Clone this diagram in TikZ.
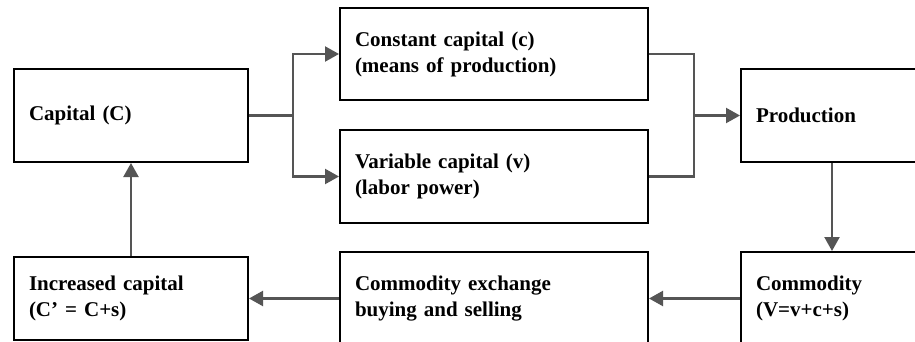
\documentclass[tikz,border=0pt]{standalone}
\usepackage{fontspec}
\setmainfont{Liberation Serif}
\usetikzlibrary{arrows.meta}
\definecolor{linkgray}{HTML}{555555}
\begin{document}
\begin{tikzpicture}[x=1pt,y=-1pt,
  box/.style={draw=black,line width=2pt,inner xsep=15pt,inner ysep=0pt,
    align=left,font=\fontsize{21}{26}\selectfont\bfseries},
  wide/.style={box,minimum width=308pt,text width=278pt,minimum height=92pt},
  narrow/.style={box,minimum width=234pt,text width=204pt,minimum height=93pt},
  conn/.style={draw=linkgray,line width=2.2pt},
  arr/.style={conn,-{Triangle[length=14pt,width=15pt]}}]
\useasboundingbox (0,0) rectangle (915,342);
\clip (0,0) rectangle (915,342);
\fill[white] (0,0) rectangle (915,342);

% boxes
\node[narrow] (cap) at (131,115.5) {Capital (C)};
\node[wide] (const) at (494,54) {Constant capital (c)\\(means of production)};
\node[wide,minimum height=93pt] (var) at (494,176.5) {Variable capital (v)\\(labor power)};
\node[narrow] (prod) at (858,115.5) {Production};
\node[narrow] (comm) at (858,298.5) {Commodity\\(V=v+c+s)};
\node[wide,minimum height=93pt] (exch) at (494,298.5) {Commodity exchange\\buying and selling};
\node[narrow,minimum height=83pt] (inc) at (131,298.5) {Increased capital\\(C’ = C+s)};

% capital splits into its two parts
\coordinate (split) at (293,115.5);
\draw[conn] (cap.east) -- (split);
\draw[arr] (split) |- (const.west);
\draw[arr] (split) |- (var.west);

% both parts join into production
\coordinate (join) at (694,115.5);
\draw[conn] (const.east) -| (join);
\draw[conn] (var.east) -| (join);
\draw[arr] (join) -- (prod.west);

% circuit back to capital
\draw[arr] ([xshift=92pt]prod.south west) -- ([xshift=92pt]comm.north west);
\draw[arr] (comm.west) -- (exch.east);
\draw[arr] (exch.west) -- (inc.east);
\draw[arr] (inc.north) -- (cap.south);
\end{tikzpicture}
\end{document}
